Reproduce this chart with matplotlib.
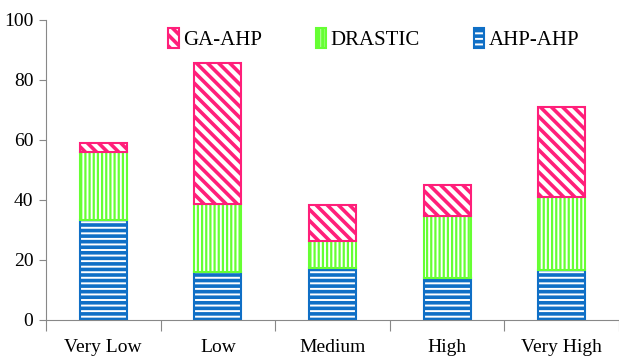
import numpy as np
import matplotlib.pyplot as plt

plt.rcParams['font.family'] = ['Liberation Serif', 'DejaVu Serif']

categories = ['Very Low', 'Low', 'Medium', 'High', 'Very High']
ahp_ahp = [33.3, 16.1, 17.2, 13.9, 16.7]
drastic = [22.7, 22.6, 9.1, 20.8, 24.2]
ga_ahp = [3.0, 47.0, 12.0, 10.3, 30.1]

fig = plt.figure(figsize=(6.19, 3.6), dpi=100)
ax = fig.add_axes([46/619, 1 - 320/360, 573/619, 300/360])

x = np.arange(len(categories))
w = 0.41
blue = '#0f6fc6'
green = '#66ff33'
pink = '#ff1f7a'

plt.rcParams['hatch.linewidth'] = 2.6
b1 = ax.bar(x, ahp_ahp, w, color='white', edgecolor=blue, hatch='---', linewidth=1.5, label='AHP-AHP')
plt.rcParams['hatch.linewidth'] = 1.6
b2 = ax.bar(x, drastic, w, bottom=ahp_ahp, color='white', edgecolor=green, hatch='||||', linewidth=1.5, label='DRASTIC')
plt.rcParams['hatch.linewidth'] = 2.6
bottom2 = [a + d for a, d in zip(ahp_ahp, drastic)]
b3 = ax.bar(x, ga_ahp, w, bottom=bottom2, color='white', edgecolor=pink, hatch='\\\\\\', linewidth=1.5, label='GA-AHP')

ax.set_xlim(-0.5, 4.5)
ax.set_ylim(0, 100)
ax.set_yticks([0, 20, 40, 60, 80, 100])
ax.set_xticks(np.arange(-0.5, 5, 1))
ax.set_xticklabels([])
ax.set_xticks(x, minor=True)
ax.set_xticklabels(categories, minor=True)
ax.tick_params(axis='x', which='minor', length=0, pad=14, labelsize=14)
ax.tick_params(axis='x', which='major', length=8, color='#888888')
ax.tick_params(axis='y', length=5, color='#888888', labelsize=14, pad=4)

for s in ['top', 'right']:
    ax.spines[s].set_visible(False)
for s in ['left', 'bottom']:
    ax.spines[s].set_color('#888888')

ax.legend(handles=[b3, b2, b1], ncol=3, frameon=False, loc='upper center',
          bbox_to_anchor=(0.572, 1.035), fontsize=15, handlelength=0.5, handleheight=1.1,
          handletextpad=0.2, columnspacing=2.6)

fig.savefig('out.png', dpi=100)
